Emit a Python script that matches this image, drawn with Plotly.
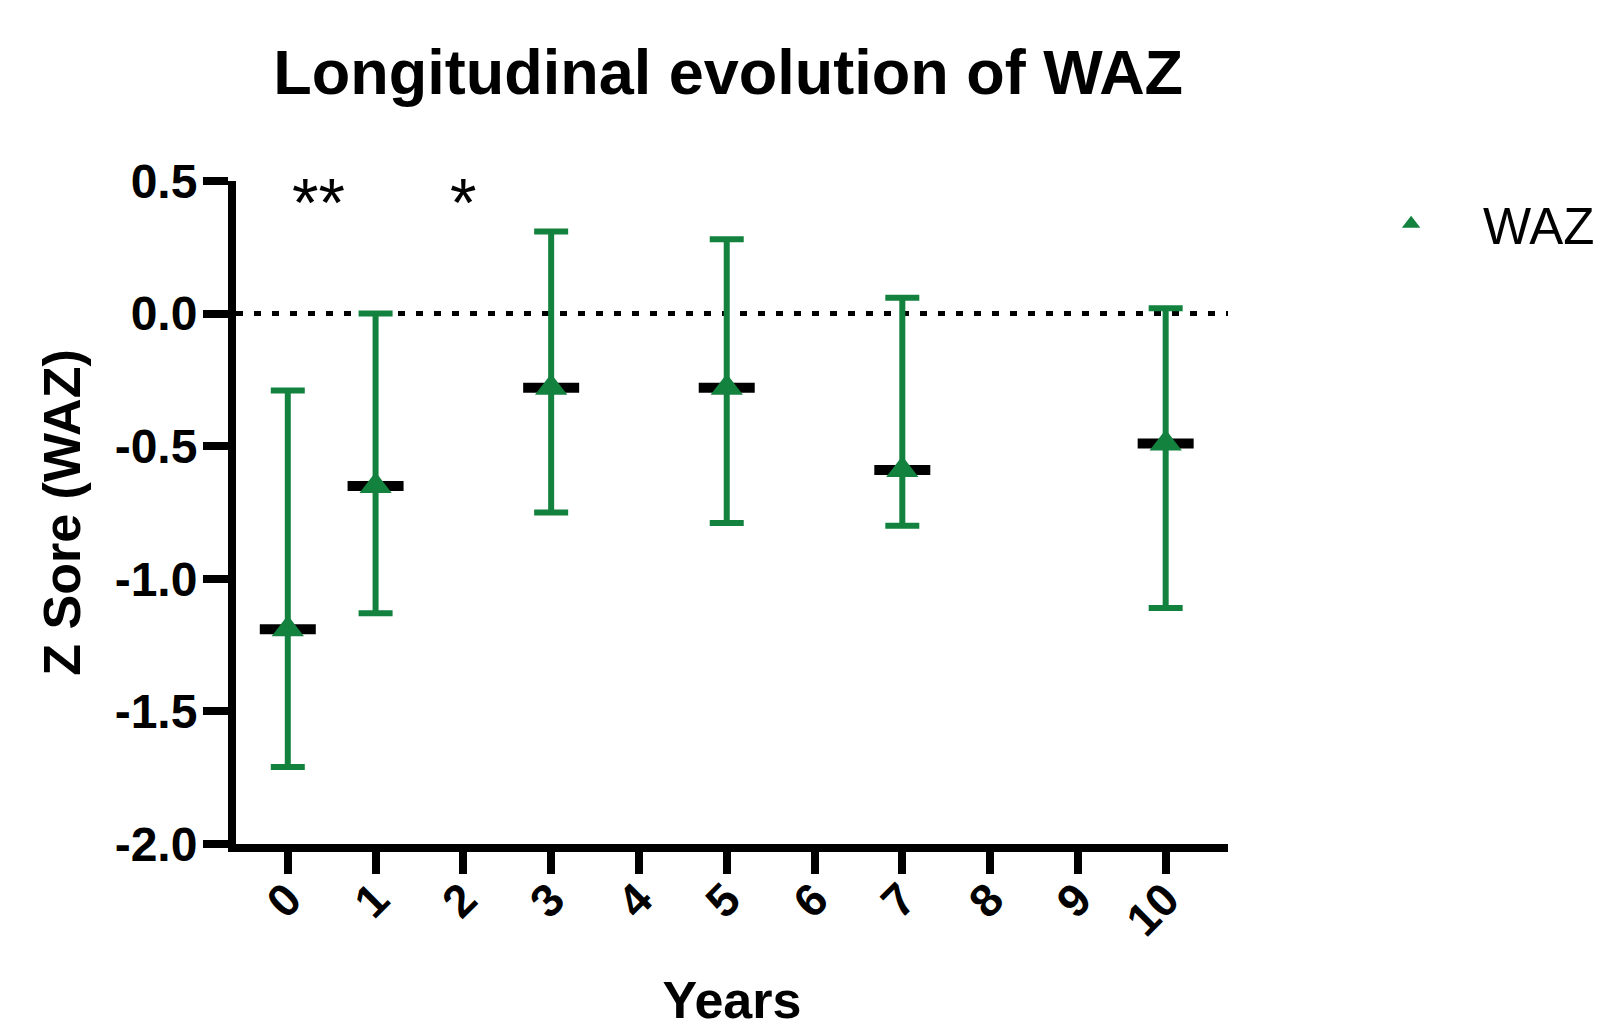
import plotly.graph_objects as go

# ---- data ----
years = [0, 1, 3, 5, 7, 10]
waz_mean = [-1.19, -0.65, -0.28, -0.28, -0.59, -0.49]
waz_upper = [-0.29, 0.00, 0.31, 0.28, 0.06, 0.02]
waz_lower = [-1.71, -1.13, -0.75, -0.79, -0.80, -1.11]

x_tick_vals = list(range(11))
x_tick_text = [str(v) for v in x_tick_vals]
y_tick_vals = [-2.0, -1.5, -1.0, -0.5, 0.0, 0.5]
y_tick_text = ["-2.0", "-1.5", "-1.0", "-0.5", "0.0", "0.5"]

sig_x = [0.35, 2.0]
sig_text = ["**", "*"]

GREEN = "#13823F"
FONT = "Liberation Sans, Arial, Helvetica, sans-serif"

err_plus = [u - m for u, m in zip(waz_upper, waz_mean)]
err_minus = [m - l for m, l in zip(waz_mean, waz_lower)]

fig = go.Figure()

# error bars (green)
fig.add_trace(go.Scatter(
    x=years, y=waz_mean, mode="markers",
    marker=dict(size=1, color="rgba(0,0,0,0)"),
    error_y=dict(type="data", symmetric=False, array=err_plus, arrayminus=err_minus,
                 color=GREEN, thickness=6, width=17),
    showlegend=False, hoverinfo="skip",
))

# black mean bars
fig.add_trace(go.Scatter(
    x=years, y=waz_mean, mode="markers",
    marker=dict(symbol="line-ew", size=40, line=dict(color="black", width=10)),
    showlegend=False, hoverinfo="skip",
))

# triangles
fig.add_trace(go.Scatter(
    x=years, y=waz_mean, mode="markers", name="WAZ",
    marker=dict(symbol="triangle-up", size=28, color=GREEN),
))

# dotted zero line
fig.add_shape(type="line", xref="paper", yref="y", x0=0, x1=1, y0=0, y1=0,
              line=dict(color="black", width=5, dash="7px,11px"), layer="below")

for sx, st in zip(sig_x, sig_text):
    fig.add_annotation(x=sx, y=0.42, text=st, showarrow=False,
                       font=dict(family=FONT, size=68, color="black"))

fig.update_layout(
    width=1604, height=1030,
    margin=dict(l=228, r=384, t=173, b=194, autoexpand=False),
    paper_bgcolor="white", plot_bgcolor="white",
    font=dict(family=FONT, color="black"),
    title=dict(text="Longitudinal evolution of WAZ", x=0.449, xanchor="center",
               y=0.938, yanchor="middle",
               font=dict(family=FONT, size=63, color="black", weight="bold")),
    legend=dict(x=1.112, y=0.935, xanchor="left", yanchor="middle",
                itemwidth=134,
                font=dict(family=FONT, size=51, color="black"),
                bgcolor="rgba(0,0,0,0)"),
    showlegend=True,
)

fig.update_xaxes(
    range=[-0.59, 10.71], tickvals=x_tick_vals, ticktext=x_tick_text,
    tickangle=-45, ticks="outside", ticklen=22, tickwidth=8, tickcolor="black",
    ticklabelstandoff=-20,
    showline=True, linewidth=8, linecolor="black", showgrid=False, zeroline=False,
    tickfont=dict(family=FONT, size=46, color="black", weight="bold"),
    title=dict(text="Years", font=dict(family=FONT, size=52, color="black", weight="bold"),
               standoff=40),
)
fig.update_yaxes(
    range=[-2.0, 0.5], tickvals=y_tick_vals, ticktext=y_tick_text,
    ticks="outside", ticklen=25, tickwidth=8, tickcolor="black",
    ticklabelstandoff=-4,
    showline=True, linewidth=8, linecolor="black", showgrid=False, zeroline=False,
    tickfont=dict(family=FONT, size=48, color="black", weight="bold"),
    title=dict(text="Z Sore (WAZ)", font=dict(family=FONT, size=52, color="black", weight="bold"),
               standoff=20),
)

fig.write_html("out.html")
